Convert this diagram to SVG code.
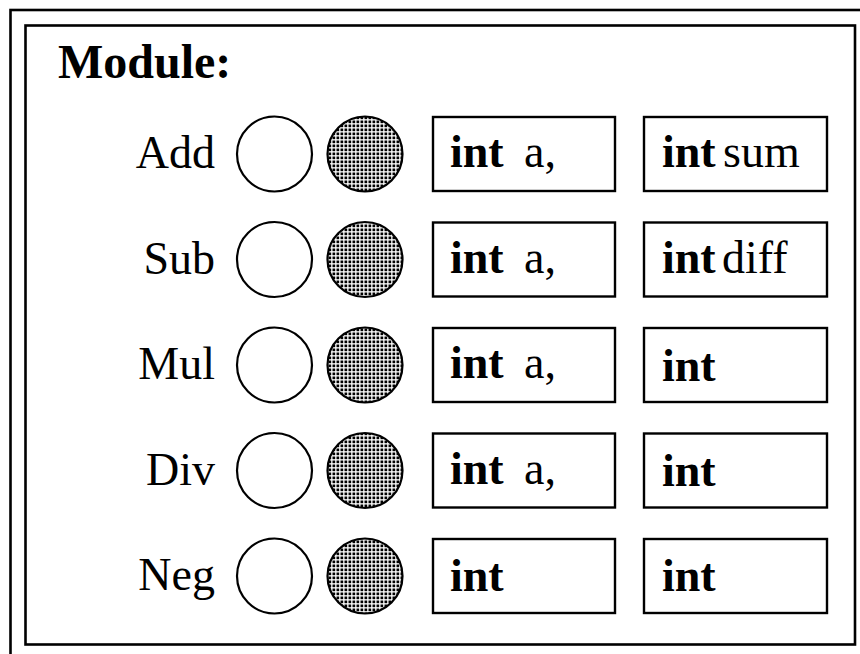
<svg xmlns="http://www.w3.org/2000/svg" width="860" height="654" viewBox="0 0 860 654">
  <defs>
    <!-- fine dot screen used for the filled ports -->
    <pattern id="dots" width="4" height="4" patternUnits="userSpaceOnUse">
      <rect width="4" height="4" fill="#fff"/>
      <rect x="0.5" y="0.5" width="2.7" height="2.7" fill="#000"/>
    </pattern>
    <style>
      .frame { fill: none; stroke: #000; stroke-width: 2.6; }
      .port { fill: #fff; stroke: #000; stroke-width: 2.2; }
      .port.filled { fill: url(#dots); }
      .box { fill: #fff; stroke: #000; stroke-width: 2.4; }
      .t { font-family: "Liberation Serif", "Times New Roman", serif; font-size: 46px; fill: #000; }
      .b { font-weight: bold; }
      .lbl { text-anchor: end; }
    </style>
  </defs>

  <rect width="860" height="654" fill="#fff"/>

  <!-- outer and inner borders -->
  <rect class="frame" x="10.5" y="10" width="880" height="680"/>
  <rect class="frame" x="25.5" y="25.5" width="829.5" height="619"/>

  <text class="t b" x="58" y="78" style="font-size:48px">Module:</text>

  <g id="add">
    <text class="t lbl" x="215" y="168">Add</text>
    <circle class="port" cx="274.5" cy="154" r="37.5"/>
    <circle class="port filled" cx="365" cy="154" r="37.5"/>
    <rect class="box" x="433" y="117" width="182" height="74"/>
    <text class="t" y="167"><tspan class="b" x="450">int</tspan><tspan x="524">a,</tspan></text>
    <rect class="box" x="644" y="117" width="183" height="74"/>
    <text class="t" y="167"><tspan class="b" x="662">int</tspan><tspan x="723">sum</tspan></text>
  </g>

  <g id="sub">
    <text class="t lbl" x="215" y="273.5">Sub</text>
    <circle class="port" cx="274.5" cy="259.5" r="37.5"/>
    <circle class="port filled" cx="365" cy="259.5" r="37.5"/>
    <rect class="box" x="433" y="222.5" width="182" height="74"/>
    <text class="t" y="272.5"><tspan class="b" x="450">int</tspan><tspan x="524">a,</tspan></text>
    <rect class="box" x="644" y="222.5" width="183" height="74"/>
    <text class="t" y="272.5"><tspan class="b" x="662">int</tspan><tspan x="722">diff</tspan></text>
  </g>

  <g id="mul">
    <text class="t lbl" x="215" y="379">Mul</text>
    <circle class="port" cx="274.5" cy="365" r="37.5"/>
    <circle class="port filled" cx="365" cy="365" r="37.5"/>
    <rect class="box" x="433" y="328" width="182" height="74"/>
    <text class="t" y="378"><tspan class="b" x="450">int</tspan><tspan x="524">a,</tspan></text>
    <rect class="box" x="644" y="328" width="183" height="74"/>
    <text class="t b" x="662" y="381">int</text>
  </g>

  <g id="div">
    <text class="t lbl" x="215" y="484.5">Div</text>
    <circle class="port" cx="274.5" cy="470.5" r="37.5"/>
    <circle class="port filled" cx="365" cy="470.5" r="37.5"/>
    <rect class="box" x="433" y="433.5" width="182" height="74"/>
    <text class="t" y="483.5"><tspan class="b" x="450">int</tspan><tspan x="524">a,</tspan></text>
    <rect class="box" x="644" y="433.5" width="183" height="74"/>
    <text class="t b" x="662" y="486">int</text>
  </g>

  <g id="neg">
    <text class="t lbl" x="215" y="590">Neg</text>
    <circle class="port" cx="274.5" cy="576" r="37.5"/>
    <circle class="port filled" cx="365" cy="576" r="37.5"/>
    <rect class="box" x="433" y="539" width="182" height="74"/>
    <text class="t b" x="450" y="591">int</text>
    <rect class="box" x="644" y="539" width="183" height="74"/>
    <text class="t b" x="662" y="591">int</text>
  </g>

  <g id="connectors"/>
</svg>
